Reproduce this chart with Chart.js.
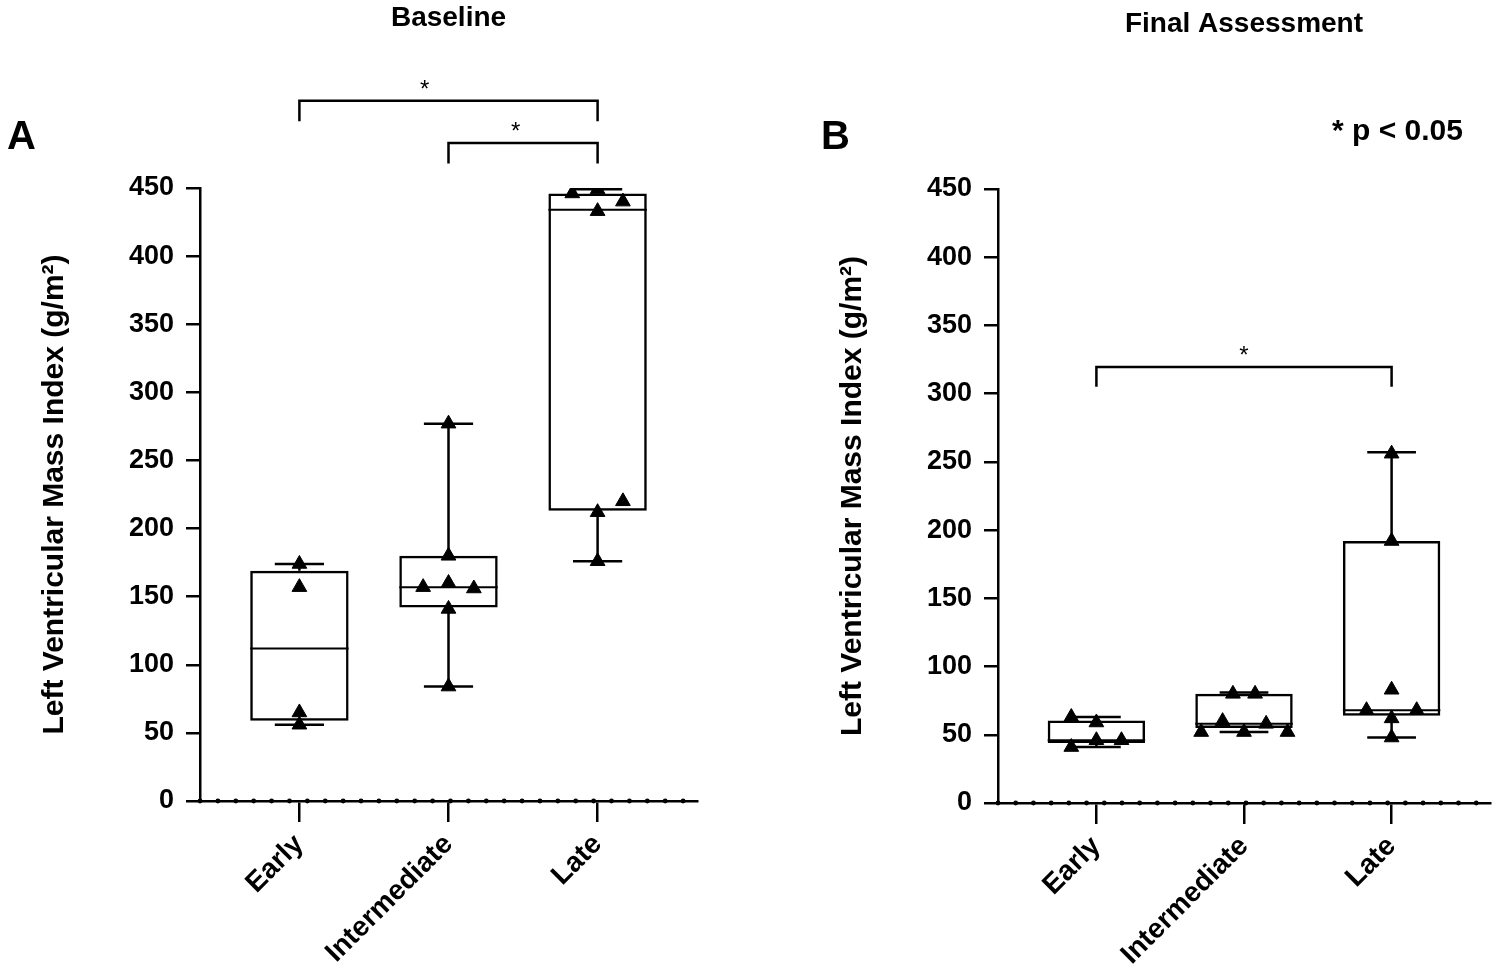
<!DOCTYPE html>
<html>
<head>
<meta charset="utf-8">
<script src="https://cdn.jsdelivr.net/npm/chart.js@4.4.1/dist/chart.umd.min.js"></script>
<style>
  html, body { margin: 0; padding: 0; background: #fff; }
  #wrap { position: relative; width: 1500px; height: 977px; }
  .panel { position: absolute; top: 0; width: 750px; height: 977px; }
  #panelA { left: 0; }
  #panelB { left: 750px; }
</style>
</head>
<body>
<div id="wrap">
  <div class="panel" id="panelA"><canvas id="chartA"></canvas></div>
  <div class="panel" id="panelB"><canvas id="chartB"></canvas></div>
</div>
<script>
const groups = ['Early', 'Intermediate', 'Late'];
const yTicks = [0, 50, 100, 150, 200, 250, 300, 350, 400, 450];

// Baseline - individual patients
const baselineEarly = [174, 157, 65, 56];
const baselineIntermediate = [277, 180, 160, 157, 156, 141, 84];
const baselineLate = [449, 446, 440, 433, 220, 212, 176];
// sideways spread of the symbols (in category units), as plotted
const baselineEarlySpread = [0, 0, 0, 0];
const baselineIntermediateSpread = [0, 0, 0, -0.17, 0.17, 0, 0];
const baselineLateSpread = [0, -0.17, 0.17, 0, 0.17, 0, 0];

// Baseline - box and whiskers
const baselineMin = [56, 84, 176];
const baselineQ1 = [59, 142, 213];
const baselineMedian = [112, 157, 434];
const baselineQ3 = [169, 180, 446];
const baselineMax = [174, 277, 449];

// Final assessment - individual patients
const finalEarly = [63, 59, 46, 46, 41];
const finalIntermediate = [80, 80, 60, 58, 52, 52, 52];
const finalLate = [256, 192, 83, 68, 68, 62, 48];
const finalEarlySpread = [-0.17, 0, 0, 0.17, -0.17];
const finalIntermediateSpread = [-0.075, 0.075, -0.145, 0.15, -0.29, 0, 0.295];
const finalLateSpread = [0, 0, 0, -0.17, 0.17, 0, 0];

// Final assessment - box and whiskers
const finalMin = [41, 52, 48];
const finalQ1 = [44, 55, 64];
const finalMedian = [46, 58, 68];
const finalQ3 = [60.5, 80, 192];
const finalMax = [63, 81, 257];

// significance brackets: group indexes, bracket height and leg end (y units)
const baselineBrackets = [
  { from: 0, to: 2, level: 514, leg: 499, star: 0.42 },
  { from: 1, to: 2, level: 483, leg: 468, star: 0.45 }
];
const finalBrackets = [
  { from: 0, to: 2, level: 319.5, leg: 305, star: 0.5 }
];

const FONT = "'Liberation Sans', Arial, Helvetica, sans-serif";

function pointsFor(values, spreads) {
  const pts = [];
  values.forEach((vals, i) => {
    vals.forEach((v, k) => pts.push({ x: i + 1 + spreads[i][k], y: v }));
  });
  return pts;
}

function boxPlugin(stats, brackets, extras) {
  return {
    id: 'boxWhisker',
    beforeDatasetsDraw(chart) {
      const { ctx, scales: { y } } = chart;
      const bars = chart.getDatasetMeta(1).data;
      ctx.save();
      ctx.strokeStyle = '#000';
      bars.forEach((bar, i) => {
        const half = bar.width / 2;
        const cap = bar.width / 4;
        // median
        ctx.lineWidth = 2;
        ctx.beginPath();
        const ym = y.getPixelForValue(stats.median[i]);
        ctx.moveTo(bar.x - half, ym);
        ctx.lineTo(bar.x + half, ym);
        ctx.stroke();
        // whiskers
        ctx.lineWidth = 2.5;
        const yq3 = y.getPixelForValue(stats.q3[i]);
        const yq1 = y.getPixelForValue(stats.q1[i]);
        const yMax = y.getPixelForValue(stats.max[i]);
        const yMin = y.getPixelForValue(stats.min[i]);
        ctx.beginPath();
        ctx.moveTo(bar.x, yq3); ctx.lineTo(bar.x, yMax);
        ctx.moveTo(bar.x - cap, yMax); ctx.lineTo(bar.x + cap, yMax);
        ctx.moveTo(bar.x, yq1); ctx.lineTo(bar.x, yMin);
        ctx.moveTo(bar.x - cap, yMin); ctx.lineTo(bar.x + cap, yMin);
        ctx.stroke();
      });
      ctx.restore();
    },
    afterDraw(chart) {
      const { ctx, chartArea, scales: { x, y } } = chart;
      ctx.save();
      // dotted baseline along the x axis
      ctx.fillStyle = '#000';
      for (let v = x.min; v <= x.max - 0.05; v += 0.12) {
        ctx.beginPath();
        ctx.arc(x.getPixelForValue(v), chartArea.bottom, 2.4, 0, Math.PI * 2);
        ctx.fill();
      }
      // significance brackets
      ctx.strokeStyle = '#000';
      ctx.lineWidth = 2.5;
      ctx.font = '24px ' + FONT;
      ctx.textAlign = 'center';
      ctx.textBaseline = 'alphabetic';
      brackets.forEach(b => {
        const x1 = x.getPixelForValue(b.from + 1);
        const x2 = x.getPixelForValue(b.to + 1);
        const yl = y.getPixelForValue(b.level);
        const yleg = y.getPixelForValue(b.leg);
        ctx.beginPath();
        ctx.moveTo(x1, yleg); ctx.lineTo(x1, yl); ctx.lineTo(x2, yl); ctx.lineTo(x2, yleg);
        ctx.stroke();
        ctx.fillText('*', x1 + (x2 - x1) * b.star, yl - 4);
      });
      // panel letter and notes
      ctx.textAlign = 'left';
      ctx.textBaseline = 'middle';
      extras.forEach(t => {
        ctx.font = t.font;
        ctx.fillText(t.text, t.x, t.y);
      });
      ctx.restore();
    }
  };
}

function makeChart(id, opts) {
  const stats = { min: opts.min, q1: opts.q1, median: opts.median, q3: opts.q3, max: opts.max };
  return new Chart(document.getElementById(id), {
    type: 'scatter',
    data: {
      datasets: [
        {
          type: 'scatter',
          data: pointsFor(opts.values, opts.spreads),
          pointStyle: 'triangle',
          pointRadius: 8.5,
          backgroundColor: '#000',
          borderColor: '#000',
          borderWidth: 1
        },
        {
          type: 'bar',
          data: groups.map((g, i) => ({ x: i + 1, y: [opts.q1[i], opts.q3[i]] })),
          backgroundColor: 'rgba(0,0,0,0)',
          borderColor: '#000',
          borderWidth: 2.5,
          borderSkipped: false,
          barPercentage: 0.66,
          categoryPercentage: 1
        }
      ]
    },
    options: {
      responsive: true,
      maintainAspectRatio: false,
      animation: false,
      layout: { padding: opts.padding },
      plugins: {
        legend: { display: false },
        tooltip: { enabled: false },
        title: {
          display: true,
          text: opts.title,
          fullSize: false,
          color: '#000',
          font: { family: FONT, size: 28, weight: 'bold' },
          padding: opts.titlePadding
        }
      },
      scales: {
        x: {
          type: 'linear',
          offset: false,
          min: 1 / 3,
          max: 11 / 3,
          afterBuildTicks: s => { s.ticks = groups.map((g, i) => ({ value: i + 1 })); },
          afterFit: s => { s.height = opts.xHeight; },
          ticks: {
            autoSkip: false,
            minRotation: 45,
            maxRotation: 45,
            padding: 6,
            color: '#000',
            font: { family: FONT, size: 28, weight: 'bold' },
            callback: v => groups[Math.round(v) - 1]
          },
          grid: { offset: false, drawOnChartArea: false, drawTicks: true, tickLength: 21, color: '#000', lineWidth: 2.5 },
          border: { display: true, color: '#000', width: 2.5 }
        },
        y: {
          min: 0,
          max: 450,
          afterBuildTicks: s => { s.ticks = yTicks.map(v => ({ value: v })); },
          afterFit: s => { s.width = 200; },
          ticks: {
            padding: 12,
            color: '#000',
            font: { family: FONT, size: 27, weight: 'bold' }
          },
          grid: { drawOnChartArea: false, drawTicks: true, tickLength: 14, color: '#000', lineWidth: 2.5 },
          border: { display: true, color: '#000', width: 2.5 },
          title: {
            display: true,
            text: 'Left Ventricular Mass Index (g/m²)',
            color: '#000',
            font: { family: FONT, size: 30, weight: 'bold' },
            padding: { top: 37, bottom: 0 }
          }
        }
      }
    },
    plugins: [boxPlugin(stats, opts.brackets, opts.extras)]
  });
}

makeChart('chartA', {
  title: 'Baseline',
  values: [baselineEarly, baselineIntermediate, baselineLate],
  spreads: [baselineEarlySpread, baselineIntermediateSpread, baselineLateSpread],
  min: baselineMin, q1: baselineQ1, median: baselineMedian, q3: baselineQ3, max: baselineMax,
  brackets: baselineBrackets,
  padding: { left: 0, right: 53, top: 0, bottom: 0 },
  titlePadding: { top: 1.2, bottom: 153.2 },
  xHeight: 176,
  extras: [{ text: 'A', x: 7, y: 138, font: 'bold 40px ' + FONT }]
});

makeChart('chartB', {
  title: 'Final Assessment',
  values: [finalEarly, finalIntermediate, finalLate],
  spreads: [finalEarlySpread, finalIntermediateSpread, finalLateSpread],
  min: finalMin, q1: finalQ1, median: finalMedian, q3: finalQ3, max: finalMax,
  brackets: finalBrackets,
  padding: { left: 48, right: 10, top: 0, bottom: 0 },
  titlePadding: { top: 7.2, bottom: 148.2 },
  xHeight: 174,
  extras: [
    { text: 'B', x: 71, y: 138, font: 'bold 40px ' + FONT },
    { text: '* p < 0.05', x: 582, y: 132, font: 'bold 30px ' + FONT }
  ]
});
</script>
</body>
</html>
